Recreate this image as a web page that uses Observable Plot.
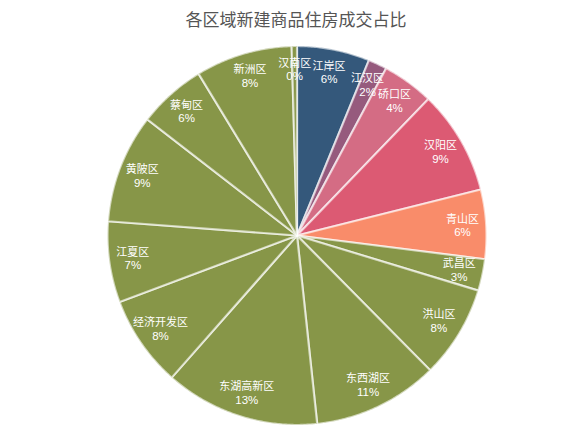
<!DOCTYPE html>
<html><head><meta charset="utf-8">
<script src="https://cdn.jsdelivr.net/npm/d3@7"></script>
<script src="https://cdn.jsdelivr.net/npm/@observablehq/plot@0.6"></script>
<style>
body{margin:0;background:#fff;font-family:"Microsoft YaHei","Noto Sans CJK SC",sans-serif;}
#title{width:576px;box-sizing:border-box;height:36px;line-height:37px;text-align:center;font-size:17px;color:#555;padding-left:16px;}
#chart svg{display:block;}
</style></head><body>
<div id="title">各区域新建商品住房成交占比</div>
<div id="chart"></div>
<script>
// Districts in clockwise order starting at 12 o'clock
const districts = ["江岸区","江汉区","硚口区","汉阳区","青山区","武昌区","洪山区","东西湖区","东湖高新区","经济开发区","江夏区","黄陂区","蔡甸区","新洲区","汉南区"];
// Estimated shares (%)
const shares = [6.2, 1.6, 4.4, 8.9, 5.9, 2.7, 7.9, 10.7, 13.2, 7.8, 6.9, 9.3, 5.8, 8.25, 0.45];
const colors = ["#34587b","#965a7d","#d46c84","#dc5a73","#f98c6a","#879648","#879648","#879648","#879648","#879648","#879648","#879648","#879648","#879648","#879648"];

const total = d3.sum(shares);
let acc = 0;
const pts = [];
const labels = [];
districts.forEach((name, i) => {
  const a0 = acc / total * 2 * Math.PI;
  acc += shares[i];
  const a1 = acc / total * 2 * Math.PI;
  pts.push({name, x: 0, y: 0});
  const n = Math.max(2, Math.ceil((a1 - a0) / (Math.PI / 360)));
  for (let k = 0; k <= n; k++) {
    const a = a0 + (a1 - a0) * k / n;
    pts.push({name, x: Math.sin(a), y: Math.cos(a)});
  }
  pts.push({name, x: 0, y: 0});
  const m = (a0 + a1) / 2;
  labels.push({name, x: 0.875 * Math.sin(m), y: 0.875 * Math.cos(m),
    pct: Math.round(shares[i] / total * 100) + "%"});
});

const font = "'Microsoft YaHei','Noto Sans CJK SC',sans-serif";
const chart = Plot.plot({
  width: 576, height: 400,
  marginLeft: 107, marginRight: 90, marginTop: 9.5, marginBottom: 11.5,
  x: {domain: [-1, 1], axis: null},
  y: {domain: [-1, 1], axis: null},
  color: {domain: districts, range: colors},
  style: {fontFamily: font, background: "white"},
  marks: [
    Plot.line(pts, {x: "x", y: "y", z: "name", fill: "name", stroke: "#fff", strokeOpacity: 0.62, strokeWidth: 2.2, strokeLinejoin: "round"}),
    Plot.text(labels, {x: "x", y: "y", text: "name", fill: "white", fontSize: 11, dy: -6.6}),
    Plot.text(labels, {x: "x", y: "y", text: "pct", fill: "white", fontSize: 11.5, fontFamily: "'Liberation Sans',Arial,sans-serif", dy: 6.9})
  ]
});
document.getElementById("chart").appendChild(chart);
</script>
</body></html>
